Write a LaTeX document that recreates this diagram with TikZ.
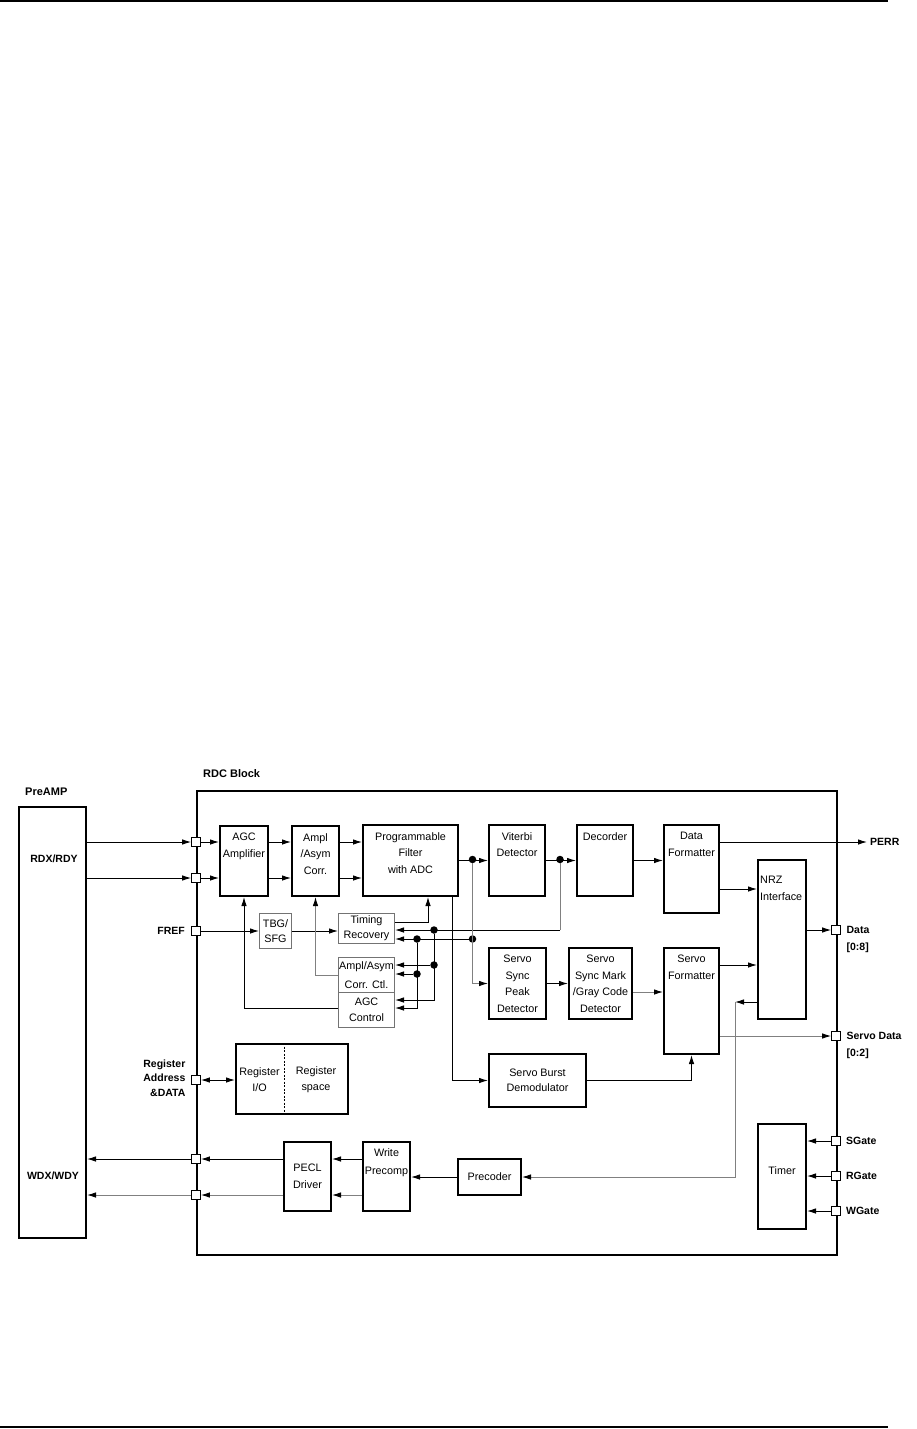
\documentclass[tikz,border=0pt]{standalone}
\usepackage{fontspec}
\setmainfont{Liberation Sans}
\usetikzlibrary{arrows.meta}
\begin{document}
\begin{tikzpicture}[x=1pt, y=-1pt,
    blk/.style={draw, line width=2, inner sep=0, anchor=north west},
    sblk/.style={draw=black!55, line width=1, inner sep=0, anchor=north west, align=center, font=\fontsize{10.8}{15}\selectfont},
    txt/.style={align=center, inner sep=0, anchor=north, yshift=-8pt, font=\fontsize{10.8}{16.5}\selectfont},
    ctxt/.style={align=center, inner sep=0, font=\fontsize{10.8}{16}\selectfont},
    lbl/.style={inner sep=0, font=\bfseries\fontsize{10.5}{17}\selectfont},
    port/.style={draw, fill=white, line width=0.8, minimum size=9, inner sep=0},
    dot/.style={circle, fill, inner sep=0, minimum size=7.5},
    sig/.style={line width=0.9, -{Latex[length=9,width=5.5]}},
    gsig/.style={line width=0.9, draw=black!50, -{Latex[length=9,width=5.5,color=black]}},
    gline/.style={line width=0.9, draw=black!50}]
  \useasboundingbox (0,0) rectangle (916,1429);
  % page rules
  \draw[line width=1.5] (0,1) -- (888,1);
  \draw[line width=1.5] (0,1427) -- (888,1427);

  % outer blocks
  \node[lbl, anchor=west, font=\bfseries\fontsize{11}{13}\selectfont] (lpre) at (25,792) {PreAMP};
  \node[blk, minimum width=67, minimum height=431] (preamp) at (18,806) {};
  \node[lbl] (lrdx) at (54,859) {RDX/RDY};
  \node[lbl] (lwdx) at (53,1176) {WDX/WDY};
  \node[lbl, anchor=west, font=\bfseries\fontsize{11}{13}\selectfont] (lrdc) at (203,774) {RDC Block};
  \node[blk, minimum width=640, minimum height=464] (rdc) at (196,790) {};

  % read channel
  \node[blk, minimum width=48, minimum height=70] (agc) at (219,825) {};
  \node[txt] (agct) at (agc.north) {AGC\\Amplifier};
  \node[blk, minimum width=47, minimum height=70] (ampl) at (291,825) {};
  \node[txt] (amplt) at (ampl.north) {Ampl\\/Asym\\Corr.};
  \node[blk, minimum width=95, minimum height=71] (filt) at (362,824) {};
  \node[txt] (filtt) at (filt.north) {Programmable\\Filter\\with ADC};
  \node[blk, minimum width=56, minimum height=71] (vit) at (488,824) {};
  \node[txt] (vitt) at (vit.north) {Viterbi\\Detector};
  \node[blk, minimum width=56, minimum height=71] (dec) at (576,824) {};
  \node[txt] (dect) at (dec.north) {Decorder};
  \node[blk, minimum width=55, minimum height=88] (dfmt) at (663,824) {};
  \node[txt] (dfmtt) at (dfmt.north) {Data\\Formatter};
  \node[blk, minimum width=48, minimum height=159] (nrz) at (757,859) {};
  \node[txt, anchor=north west, align=left, xshift=3pt, yshift=-9pt] (nrzt) at (nrz.north west) {NRZ\\Interface};

  % timing and gain control
  \node[sblk, minimum width=32, minimum height=35] (tbg) at (259,913) {TBG/\\SFG};
  \node[sblk, minimum width=56, minimum height=30] (tr) at (338,913) {Timing\\Recovery};
  \node[sblk, minimum width=56, minimum height=35] (actl) at (338,957) {Ampl/Asym\\[4pt]Corr. Ctl.};
  \node[sblk, minimum width=56, minimum height=35] (agcc) at (338,992) {AGC\\[1.5pt]Control};

  % servo channel
  \node[blk, minimum width=57, minimum height=71] (sspd) at (488,947) {};
  \node[txt] (sspdt) at (sspd.north) {Servo\\Sync\\Peak\\Detector};
  \node[blk, minimum width=63, minimum height=71] (ssm) at (568,947) {};
  \node[txt] (ssmt) at (ssm.north) {Servo\\Sync Mark\\/Gray Code\\Detector};
  \node[blk, minimum width=55, minimum height=106] (sfmt) at (663,947) {};
  \node[txt] (sfmtt) at (sfmt.north) {Servo\\Formatter};
  \node[blk, minimum width=97, minimum height=53, align=center, font=\fontsize{10.8}{14.5}\selectfont] (sbd) at (488,1053) {Servo Burst\\Demodulator};

  % registers
  \node[blk, minimum width=112, minimum height=70] (reg) at (235,1043) {};
  \draw[line width=0.8, dash pattern=on 2pt off 1.5pt] ([xshift=49pt]reg.north west) -- ([xshift=49pt]reg.south west);
  \node[ctxt] (regio) at (259.5,1080) {Register\\I/O};
  \node[ctxt] (regsp) at (316,1080) {Register\\space};

  % write channel
  \node[blk, minimum width=47, minimum height=69, align=center, font=\fontsize{10.8}{17}\selectfont] (pecl) at (283,1141) {PECL\\Driver};
  \node[blk, minimum width=47, minimum height=69] (wpc) at (362,1141) {};
  \node[txt, yshift=1pt] (wpct) at (wpc.north) {Write\\[2pt]Precomp};
  \node[blk, minimum width=63, minimum height=36, font=\fontsize{10.8}{14}\selectfont] (prec) at (457,1158) {Precoder};
  \node[blk, minimum width=48, minimum height=105] (timer) at (757,1123) {};
  \node[ctxt] (timert) at ([yshift=6pt]timer.center) {Timer};

  % pins
  \node[port] (pin1) at (196,842) {};
  \node[port] (pin2) at (196,878) {};
  \node[port] (pfref) at (196,931) {};
  \node[port] (preg) at (196,1080) {};
  \node[port] (pw1) at (196,1159) {};
  \node[port] (pw2) at (196,1195) {};
  \node[port] (pdata) at (836,930) {};
  \node[port] (psdata) at (836,1036) {};
  \node[port] (psg) at (836,1141) {};
  \node[port] (prg) at (836,1176) {};
  \node[port] (pwg) at (836,1211) {};
  \node[lbl, anchor=east] (lfref) at ([xshift=-6pt]pfref.west) {FREF};
  \node[lbl, anchor=east, align=right, font=\bfseries\fontsize{10.5}{14.5}\selectfont] (lreg) at ([xshift=-5.5pt, yshift=2pt]preg.west) {Register\\Address\\\&DATA};
  \node[lbl, anchor=north west, align=left] (ldata) at ([xshift=5.5pt, yshift=4pt]pdata.east) {Data\\{}[0:8]};
  \node[lbl, anchor=north west, align=left] (lsdata) at ([xshift=5.5pt, yshift=4pt]psdata.east) {Servo Data\\{}[0:2]};
  \node[lbl, anchor=west] (lsg) at ([xshift=5pt]psg.east) {SGate};
  \node[lbl, anchor=west] (lrg) at ([xshift=5pt]prg.east) {RGate};
  \node[lbl, anchor=west] (lwg) at ([xshift=5pt]pwg.east) {WGate};
  \node[lbl, anchor=west] (lperr) at (870,842) {PERR};

  % junctions
  \node[dot] (j1) at (472.5,859.5) {};
  \node[dot] (j2) at (560,859.5) {};
  \node[dot] (j3) at (434,930) {};
  \node[dot] (j4) at (417,939) {};
  \node[dot] (j5) at (j1 |- j4) {};
  \node[dot] (j6) at (434,965) {};
  \node[dot] (j7) at (417,974) {};

  % read path
  \draw[sig] (preamp.east |- pin1) -- (pin1.west);
  \draw[sig] (pin1.east) -- (agc.west |- pin1);
  \draw[sig] (preamp.east |- pin2) -- (pin2.west);
  \draw[sig] (pin2.east) -- (agc.west |- pin2);
  \draw[sig] (agc.east |- pin1) -- (ampl.west |- pin1);
  \draw[sig] (agc.east |- pin2) -- (ampl.west |- pin2);
  \draw[sig] (ampl.east |- pin1) -- (filt.west |- pin1);
  \draw[sig] (ampl.east |- pin2) -- (filt.west |- pin2);
  \draw[sig] (filt.east) -- (vit.west);
  \draw[sig] (vit.east) -- (dec.west);
  \draw[sig] (dec.east) -- (dfmt.west |- dec.east);
  \draw[sig] (dfmt.east |- lperr) -- ([xshift=-3pt]lperr.west);
  \coordinate (d2n) at ([yshift=25pt]dfmt.south east);
  \draw[sig] (d2n) -- (nrz.west |- d2n);
  \draw[sig] (nrz.east |- pdata) -- (pdata.west);

  % timing loop
  \draw[sig] (pfref.east) -- (tbg.west |- pfref);
  \draw[sig] (tbg.east) -- (tr.west |- tbg.east);
  \draw[sig] ([yshift=-9pt]tr.north east) -| ([xshift=-31pt]filt.south east);
  \draw[gline] (j2) -- (j2 |- j3);
  \draw[sig] (j2 |- j3) -- (tr.east |- j3);
  \draw[sig] (j5) -- (tr.east |- j5);
  \draw[sig] (j3) |- ([yshift=-8pt]agcc.north east);
  \draw[sig] (j4) |- ([yshift=-16pt]agcc.north east);
  \draw[sig] (j6) -- (actl.east |- j6);
  \draw[sig] (j7) -- (actl.east |- j7);
  \draw[gsig] ([yshift=-18pt]actl.north west) -| (ampl.south);
  \draw[sig] ([yshift=-16pt]agcc.north west) -| (agc.south);

  % servo path
  \draw[gsig] (j1) |- (sspd.west);
  \draw[sig] (sspd.east) -- (ssm.west |- sspd.east);
  \coordinate (s2f) at ([yshift=-45pt]ssm.north east);
  \draw[gsig] (s2f) -- (sfmt.west |- s2f);
  \coordinate (f2n) at ([yshift=-18pt]sfmt.north east);
  \draw[sig] (f2n) -- (nrz.west |- f2n);
  \draw[gsig] (sfmt.east |- psdata) -- (psdata.west);
  \draw[sig] ([xshift=-7pt]filt.south east) |- (sbd.west);
  \draw[sig] (sbd.east) -| (sfmt.south);

  % write path
  \coordinate (n2p) at ([yshift=18pt]nrz.south west);
  \coordinate (wbend) at ([xshift=-22pt]n2p);
  \draw[sig] (n2p) -- (wbend);
  \draw[gsig] (wbend) |- (prec.east);
  \draw[sig] (prec.west) -- (wpc.east |- prec.west);
  \draw[sig] (wpc.west |- pw1) -- (pecl.east |- pw1);
  \draw[gsig] (wpc.west |- pw2) -- (pecl.east |- pw2);
  \draw[sig] (pecl.west |- pw1) -- (pw1.east);
  \draw[gsig] (pecl.west |- pw2) -- (pw2.east);
  \draw[sig] (pw1.west) -- (preamp.east |- pw1);
  \draw[gsig] (pw2.west) -- (preamp.east |- pw2);

  % register and gates
  \draw[line width=0.9, {Latex[length=9,width=5.5]}-{Latex[length=9,width=5.5]}] (preg.east) -- (reg.west |- preg);
  \draw[sig] (psg.west) -- (timer.east |- psg);
  \draw[sig] (prg.west) -- (timer.east |- prg);
  \draw[sig] (pwg.west) -- (timer.east |- pwg);
\end{tikzpicture}
\end{document}
